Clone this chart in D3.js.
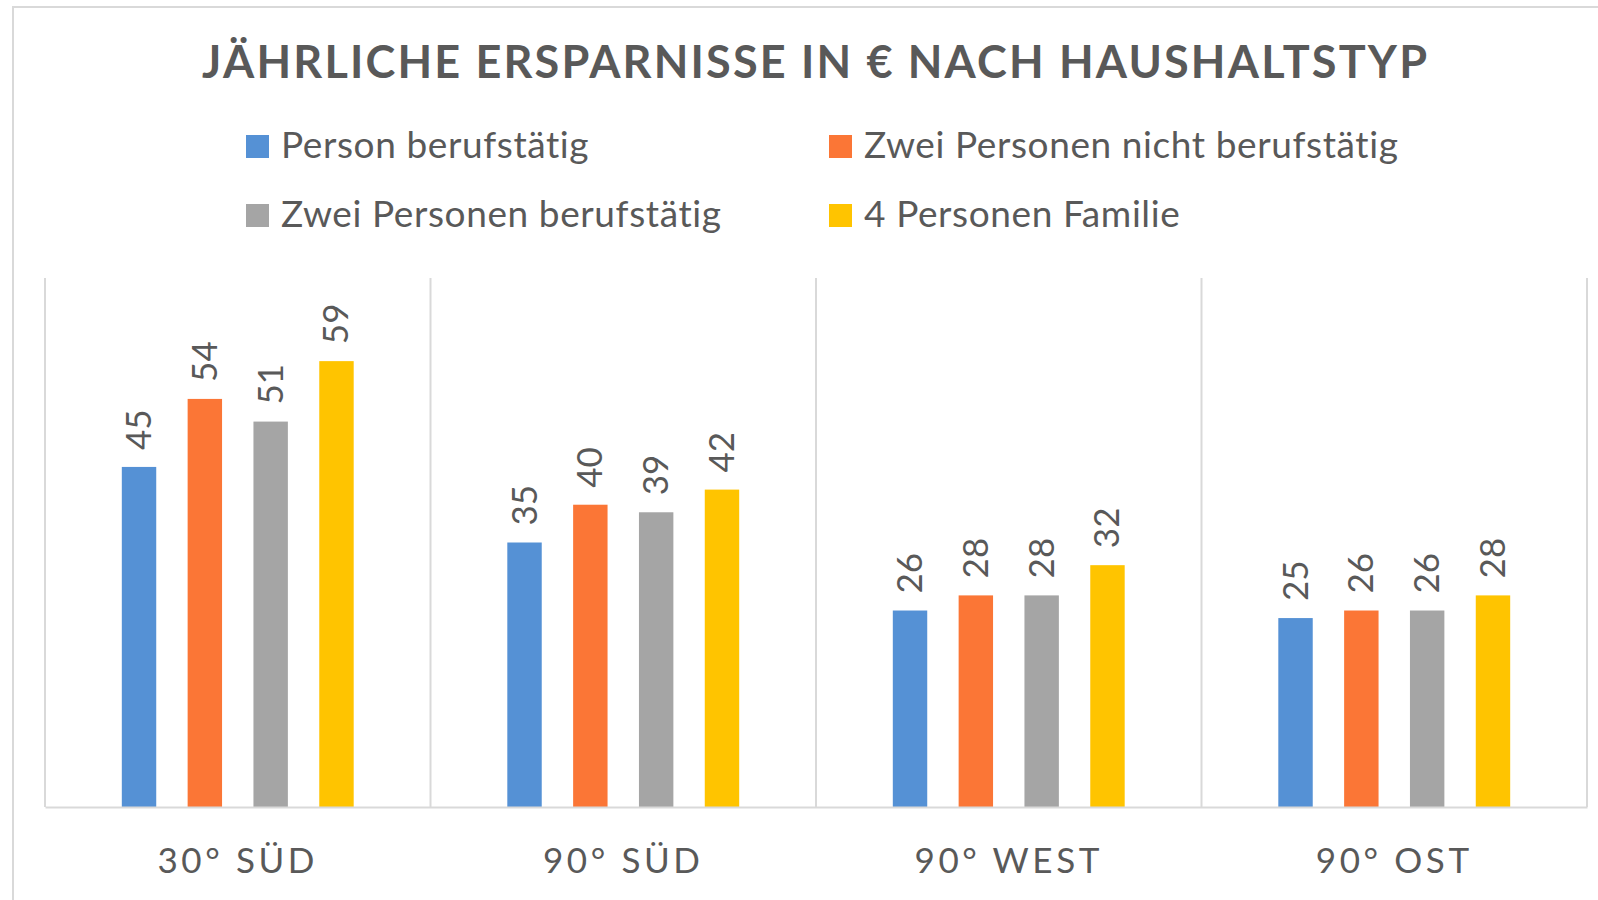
<!DOCTYPE html>
<html lang="de">
<head>
<meta charset="utf-8">
<title>Jährliche Ersparnisse</title>
<script src="https://d3js.org/d3.v7.min.js"></script>
<style>
  body { margin: 0; background: #fff; }
  text { font-family: Lato, "Open Sans", sans-serif; fill: #595959; }
</style>
</head>
<body>
<script>
// data
const categories = ["30° SÜD", "90° SÜD", "90° WEST", "90° OST"];
const seriesNames = ["Person berufstätig", "Zwei Personen nicht berufstätig",
                     "Zwei Personen berufstätig", "4 Personen Familie"];
const seriesColors = ["#5591d5", "#fb7636", "#a5a5a5", "#ffc400"];
const personBerufstaetig = [45, 35, 26, 25];
const zweiNichtBerufstaetig = [54, 40, 28, 26];
const zweiBerufstaetig = [51, 39, 28, 26];
const vierFamilie = [59, 42, 32, 28];
const seriesValues = [personBerufstaetig, zweiNichtBerufstaetig, zweiBerufstaetig, vierFamilie];
const yMax = 70;

const w = 1598, h = 900;
const plot = {left: 45, right: 1587, top: 278, bottom: 807};

const svg = d3.select("body").append("svg")
  .attr("width", w).attr("height", h);

// outer frame (runs off the right and bottom edge)
svg.append("rect")
  .attr("x", 13).attr("y", 7)
  .attr("width", 1700).attr("height", 1000)
  .attr("fill", "none").attr("stroke", "#d9d9d9").attr("stroke-width", 2);

// title
svg.append("text")
  .attr("x", 202).attr("y", 78)
  .attr("textLength", 1225).attr("lengthAdjust", "spacing")
  .attr("font-size", "45px").attr("font-weight", "bold")
  .text("JÄHRLICHE ERSPARNISSE IN € NACH HAUSHALTSTYP");

// legend, two columns x two rows
const legCol = [246, 829], legRow = [135, 204];
const legend = svg.selectAll("g.leg")
  .data(seriesNames)
  .enter().append("g")
  .attr("class", "leg")
  .attr("transform", (d, i) => "translate(" + legCol[i % 2] + "," + legRow[Math.floor(i / 2)] + ")");
legend.append("rect")
  .attr("width", 23).attr("height", 23)
  .attr("fill", (d, i) => seriesColors[i]);
legend.append("text")
  .attr("x", 35).attr("y", 23)
  .attr("font-size", "37px")
  .attr("letter-spacing", "0.6px")
  .text(d => d);

// scales
const x0 = d3.scaleBand().domain(categories).range([plot.left, plot.right]).padding(0);
const x1 = d3.scaleBand().domain(d3.range(seriesNames.length))
  .range([0, x0.bandwidth()])
  .paddingInner(0.477).paddingOuter(1.167);
const y = d3.scaleLinear().domain([0, yMax]).range([plot.bottom, plot.top]);

// vertical category separators
const seps = categories.map(c => x0(c)).concat([plot.right]);
svg.selectAll("line.sep")
  .data(seps)
  .enter().append("line")
  .attr("class", "sep")
  .attr("x1", d => d).attr("x2", d => d)
  .attr("y1", plot.top).attr("y2", plot.bottom)
  .attr("stroke", "#d9d9d9").attr("stroke-width", 2);

// bars
const groups = svg.selectAll("g.cat")
  .data(categories)
  .enter().append("g")
  .attr("class", "cat")
  .attr("transform", d => "translate(" + x0(d) + ",0)");

groups.selectAll("rect")
  .data((c, ci) => seriesValues.map((vals, si) => ({s: si, v: vals[ci]})))
  .enter().append("rect")
  .attr("x", d => x1(d.s))
  .attr("y", d => y(d.v))
  .attr("width", x1.bandwidth())
  .attr("height", d => y(0) - y(d.v))
  .attr("fill", d => seriesColors[d.s]);

// rotated value labels
groups.selectAll("text")
  .data((c, ci) => seriesValues.map((vals, si) => ({s: si, v: vals[ci]})))
  .enter().append("text")
  .attr("transform", d => "translate(" + (x1(d.s) + x1.bandwidth() / 2 + 12) + "," + (y(d.v) - 17) + ") rotate(-90)")
  .attr("font-size", "35px")
  .text(d => d.v);

// x axis
const xAxis = d3.axisBottom(x0).tickSize(0).tickPadding(0);
const gx = svg.append("g")
  .attr("transform", "translate(0," + plot.bottom + ")")
  .call(xAxis);
gx.select(".domain").attr("stroke", "#d9d9d9").attr("stroke-width", 2);
gx.selectAll("text")
  .attr("y", 66).attr("dy", 0)
  .style("font-family", "Lato, sans-serif")
  .attr("font-size", "35px")
  .attr("letter-spacing", "3.6px")
  .attr("fill", "#595959");
</script>
</body>
</html>
